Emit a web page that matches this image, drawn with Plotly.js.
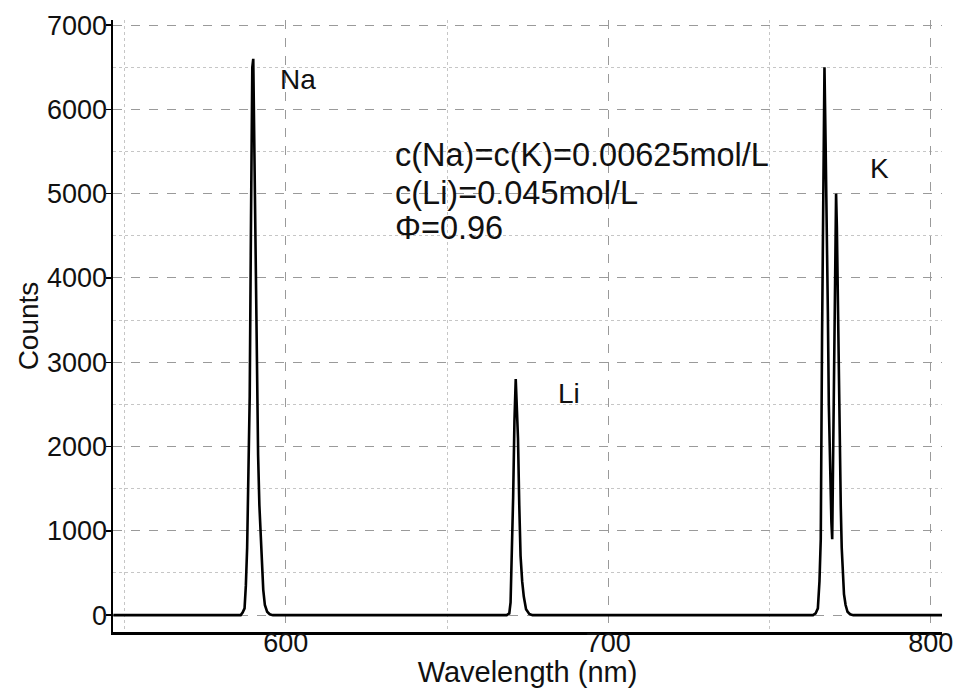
<!DOCTYPE html>
<html>
<head>
<meta charset="utf-8">
<script src="https://cdn.plot.ly/plotly-3.0.1.min.js"></script>
<style>
  html, body { margin: 0; padding: 0; background: #fff; }
  #chart { width: 953px; height: 688px; }
</style>
</head>
<body>
<div id="chart"></div>
<script>
// Emission spectrum: flat baseline with the Na, Li and K lines.
var spectrumStart = 546.5;
var spectrumEnd = 803.8;

// Na D line
var naWavelength = [586.0, 586.6, 587.2, 587.6, 588.0, 588.4, 588.8, 589.2, 589.6, 589.9, 590.2, 590.6, 591.0, 591.4, 591.8, 592.2, 592.6, 593.0, 593.5, 594.2, 595.0, 596.0];
var naCounts     = [0,     30,    80,    350,   800,   1700,  2600,  4700,  6500,  6600,  5600,  4600,  2700,  1900,  1300,  1000,  550,   300,   120,   40,    10,    0];

// Li line
var liWavelength = [668.5, 669.3, 669.7, 670.1, 670.5, 670.9, 671.3, 671.6, 672.0, 672.4, 672.8, 673.3, 673.8, 674.5, 675.5, 676.5];
var liCounts     = [0,     20,    150,   700,   1400,  2300,  2800,  2500,  2100,  1300,  700,   400,   220,   70,    15,    0];

// K doublet
var kWavelength = [763.5, 764.3, 765.0, 765.5, 765.9, 766.3, 766.7, 767.05, 767.4, 767.8, 768.1, 768.4, 768.8, 769.2, 769.45, 769.8, 770.1, 770.4, 770.65, 770.9, 771.2, 771.5, 771.8, 772.1, 772.4, 772.7, 773.1, 773.6, 774.2, 775.0, 776.0];
var kCounts     = [0,     20,    80,    400,   900,   3300,  5500,  6500,   5600,  4700,  3600,  2500,  1700,  1100,  900,    2000,  3000,  4200,  5000,   4600,  3600,  2600,  2000,  1300,  800,   450,   250,   120,   40,    10,    0];

// Peak labels and measurement conditions
var peakLabels = ['Na', 'Li', 'K'];
var peakLabelX = [597.6, 683.9, 780.6];
var peakLabelY = [6350, 2630, 5300];
var conditionLines = ['c(Na)=c(K)=0.00625mol/L', 'c(Li)=0.045mol/L', '\u03A6=0.96'];
var conditionX = 633.3;
var conditionY = [5460, 5010, 4590];

var wavelength = [spectrumStart].concat(naWavelength, liWavelength, kWavelength, [spectrumEnd]);
var counts = [0].concat(naCounts, liCounts, kCounts, [0]);

var FONT = '"Liberation Sans", Arial, sans-serif';

var trace = {
  x: wavelength,
  y: counts,
  type: 'scatter',
  mode: 'lines',
  line: { color: '#000', width: 2.6 },
  hoverinfo: 'skip'
};

var annotations = [];
peakLabels.forEach(function (t, i) {
  annotations.push({
    x: peakLabelX[i], y: peakLabelY[i], xref: 'x', yref: 'y',
    text: t, showarrow: false, xanchor: 'left', yanchor: 'middle',
    font: { family: FONT, size: 28, color: '#111' }
  });
});
conditionLines.forEach(function (t, i) {
  annotations.push({
    x: conditionX, y: conditionY[i], xref: 'x', yref: 'y',
    text: t, showarrow: false, xanchor: 'left', yanchor: 'middle',
    font: { family: FONT, size: 32.5, color: '#111' }
  });
});

var layout = {
  width: 953,
  height: 688,
  margin: { l: 113, r: 11, t: 20, b: 56, pad: 0 },
  paper_bgcolor: '#fff',
  plot_bgcolor: '#fff',
  showlegend: false,
  font: { family: FONT, color: '#111' },
  xaxis: {
    range: [546.4, 803.5],
    tick0: 0, dtick: 100,
    showline: true, linecolor: '#000', linewidth: 2.5,
    zeroline: false,
    showgrid: true, gridcolor: '#9a9a9a', gridwidth: 1, griddash: 'dash',
    minor: { tick0: 0, dtick: 50, showgrid: true, gridcolor: '#c6c6c6', gridwidth: 1, griddash: 'dot', ticks: '' },
    ticks: '', ticklabelstandoff: -15, ticklabeloverflow: 'allow',
    tickfont: { family: FONT, size: 27, color: '#111' },
    title: { text: 'Wavelength (nm)', font: { family: FONT, size: 29, color: '#111' }, standoff: 6 }
  },
  yaxis: {
    range: [-200, 7060],
    tick0: 0, dtick: 1000,
    showline: true, linecolor: '#000', linewidth: 2.5,
    zeroline: false,
    showgrid: true, gridcolor: '#9a9a9a', gridwidth: 1, griddash: 'dash',
    minor: { tick0: 0, dtick: 500, showgrid: true, gridcolor: '#c6c6c6', gridwidth: 1, griddash: 'dot', ticks: '' },
    ticks: 'outside', ticklen: 5, tickcolor: '#000', tickwidth: 1.5,
    ticklabelstandoff: -7,
    tickfont: { family: FONT, size: 27, color: '#111' },
    title: { text: 'Counts', font: { family: FONT, size: 28, color: '#111' }, standoff: 0 }
  },
  annotations: annotations
};

Plotly.newPlot('chart', [trace], layout, { displayModeBar: false, staticPlot: true });
</script>
</body>
</html>
